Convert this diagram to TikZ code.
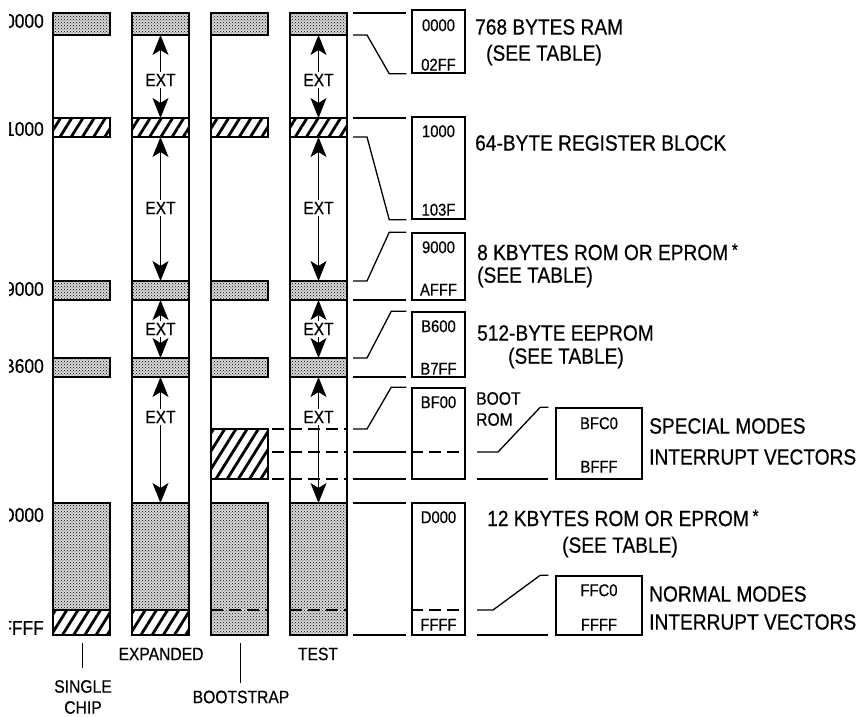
\documentclass[tikz,border=0pt]{standalone}
\usepackage{fontspec}
\setmainfont{Liberation Sans}[FakeStretch=0.87,FakeBold=0.5]
\usetikzlibrary{arrows.meta,patterns,patterns.meta,positioning}

\tikzset{
  col/.style={line width=1.8pt},
  stip/.style={col,fill=gray!30,postaction={pattern=crosshatch dots}},
  hatch/.style={col,pattern={Lines[angle=58,distance=9.5pt,line width=2.8pt]}},
  membox/.style={draw,line width=1.5pt,minimum width=53pt,inner sep=0pt},
  conn/.style={line width=1.3pt,shorten >=5pt},
  dsh/.style={line width=1.3pt,dash pattern=on 12pt off 6pt},
  extarrow/.style={line width=1pt,arrows={-Stealth[length=20pt,width=16pt,inset=5pt]}},
  ext/.style={font=\fontsize{18}{18}\selectfont,inner sep=1.5pt},
  big/.style={font=\fontsize{22}{25}\selectfont,anchor=west,inner sep=0pt},
  addr/.style={font=\fontsize{17}{17}\selectfont,inner sep=0pt},
  addrleft/.style={font=\fontsize{20}{20}\selectfont,anchor=east,inner sep=0pt},
  modelbl/.style={font=\fontsize{18}{21}\selectfont,align=center,inner sep=0pt},
}

\begin{document}
\begin{tikzpicture}[x=1pt,y=-1pt]
\useasboundingbox (0,0) rectangle (860,717);

% address levels
\foreach \n/\y in {0000/13,02FF/35,1000/118,103F/137,9000/281,AFFF/300,
    B600/358,B7FF/377,BF00/429,BFC0/452,BFFF/479,D000/503,FFC0/610,FFFF/635}
  \coordinate (a\n) at (0,\y);

% the four memory maps
\foreach \cx in {53,132,211,290} {
  \draw[stip] (\cx,13) rectangle +(57,22);
  \draw[hatch] (\cx,118) rectangle +(57,19);
  \draw[stip] (\cx,281) rectangle +(57,19);
  \draw[stip] (\cx,358) rectangle +(57,19);
}
\foreach \cx in {53,132} {
  \draw[stip] (\cx,503) rectangle +(57,107);
  \draw[hatch] (\cx,610) rectangle +(57,25);
}
\foreach \cx in {211,290} {
  \draw[stip] (\cx,503) rectangle +(57,132);
  \draw[dsh] (\cx,610) -- +(57,0);
}
\draw[hatch] (211,429) rectangle (268,479);
\foreach \y in {429,452,479} \draw[dsh,dash phase=-4pt] (268,\y) -- (347,\y);
\foreach \cx in {53,132,211,290} \draw[col] (\cx,13) -- (\cx,635);
\draw[col] (189,13) -- (189,635);
\draw[col] (347,13) -- (347,635);

% external areas
\foreach \cx/\cn in {160.5/x,318.5/t} {
  \node[ext] (e1\cn) at (\cx,80) {EXT};
  \node[ext] (e2\cn) at (\cx,208) {EXT};
  \node[ext] (e3\cn) at (\cx,329) {EXT};
  \node[ext] (e4\cn) at (\cx,417) {EXT};
  \draw[extarrow] (e1\cn) -- (e1\cn |- a02FF);
  \draw[extarrow] (e1\cn) -- (e1\cn |- a1000);
  \draw[extarrow] (e2\cn) -- (e2\cn |- a103F);
  \draw[extarrow] (e2\cn) -- (e2\cn |- a9000);
  \draw[extarrow] (e3\cn) -- (e3\cn |- aAFFF);
  \draw[extarrow] (e3\cn) -- (e3\cn |- aB600);
  \draw[extarrow] (e4\cn) -- (e4\cn |- aB7FF);
  \draw[extarrow] (e4\cn) -- (e4\cn |- aD000);
}

% addresses on the left (cut at the page edge)
\begin{scope}
  \clip (9,0) rectangle (52,717);
  \node[addrleft] (l0000) at (44,21) {0000};
  \node[addrleft] (l1000) at (44,129) {1000};
  \node[addrleft] (l9000) at (44,289) {9000};
  \node[addrleft] (lB600) at (44,366) {B600};
  \node[addrleft] (lD000) at (44,515) {D000};
  \node[addrleft] (lFFFF) at (44,628) {FFFF};
\end{scope}

% mode names
\node[modelbl] (single) at (83,697) {SINGLE\\CHIP};
\node[modelbl] (expanded) at (161,654) {EXPANDED};
\node[modelbl] (bootstrap) at (241,697) {BOOTSTRAP};
\node[modelbl] (test) at (318,654) {TEST};
\coordinate (tkS) at (82,643);
\coordinate (tkB) at (240,643);
\draw[line width=1pt,shorten >=12pt] (tkS) -- (tkS |- single.north);
\draw[line width=1pt,shorten >=7pt] (tkB) -- (tkB |- bootstrap.north);

% expanded views
\node[membox,minimum height=63pt] (ram) at (438.5,41.5) {};
\node[membox,minimum height=102pt] (reg) at (438.5,168) {};
\node[membox,minimum height=67pt] (rom9) at (438.5,266.5) {};
\node[membox,minimum height=65pt] (ee) at (438.5,344.5) {};
\node[membox,minimum height=91pt] (boot) at (438.5,433.5) {};
\node[membox,minimum height=132pt] (romD) at (438.5,569) {};
\node[membox,minimum width=86pt,minimum height=71pt] (spec) at (599,443.5) {};
\node[membox,minimum width=86pt,minimum height=59pt] (norm) at (599,605.5) {};
\draw[dsh] (boot.west |- aBFC0) -- (boot.east |- aBFC0);
\draw[dsh] (romD.west |- aFFC0) -- (romD.east |- aFFC0);

\node[addr] (ramHi) at ([yshift=-16pt]ram.north) {0000};
\node[addr] (ramLo) at ([yshift=9pt]ram.south) {02FF};
\node[addr] (regHi) at ([yshift=-15pt]reg.north) {1000};
\node[addr] (regLo) at ([yshift=10pt]reg.south) {103F};
\node[addr] (rom9Hi) at ([yshift=-15pt]rom9.north) {9000};
\node[addr] (rom9Lo) at ([yshift=11pt]rom9.south) {AFFF};
\node[addr] (eeHi) at ([yshift=-15pt]ee.north) {B600};
\node[addr] (eeLo) at ([yshift=9pt]ee.south) {B7FF};
\node[addr] (bootHi) at ([yshift=-15pt]boot.north) {BF00};
\node[addr] (romDHi) at ([yshift=-15pt]romD.north) {D000};
\node[addr] (romDLo) at ([yshift=11pt]romD.south) {FFFF};
\node[addr] (specHi) at ([yshift=-16pt]spec.north) {BFC0};
\node[addr] (specLo) at ([yshift=13pt]spec.south) {BFFF};
\node[addr] (normHi) at ([yshift=-15pt]norm.north) {FFC0};
\node[addr] (normLo) at ([yshift=11pt]norm.south) {FFFF};

% leaders from the test map to the views
\coordinate (s) at (353,0);
\coordinate (t) at (477,0);
\draw[conn] (s |- a0000) -- (ram.west |- a0000);
\draw[conn] (s |- a02FF) -- ++(14,0) -- ([xshift=-22pt]ram.south west) -- (ram.south west);
\draw[conn] (s |- a1000) -- (reg.west |- a1000);
\draw[conn] (s |- a103F) -- ++(14,0) -- ([xshift=-22pt]reg.south west) -- (reg.south west);
\draw[conn] (s |- a9000) -- ++(14,0) -- ([xshift=-22pt]rom9.north west) -- (rom9.north west);
\draw[conn] (s |- aAFFF) -- (rom9.west |- aAFFF);
\draw[conn] (s |- aB600) -- ++(14,0) -- ([xshift=-20pt]ee.north west) -- (ee.north west);
\draw[conn] (s |- aB7FF) -- (ee.west |- aB7FF);
\draw[conn] (s |- aBF00) -- ++(14,0) -- ([xshift=-20pt]boot.north west) -- (boot.north west);
\draw[conn] (s |- aBFC0) -- (boot.west |- aBFC0);
\draw[conn] (s |- aBFFF) -- (boot.west |- aBFFF);
\draw[conn] (s |- aD000) -- (romD.west |- aD000);
\draw[conn] (s |- aFFFF) -- (romD.west |- aFFFF);
\draw[conn,shorten >=7pt] (t |- aBFC0) -- ++(21,0) -- ([xshift=-15pt]spec.north west) -- (spec.north west);
\draw[conn,shorten >=7pt] (t |- aBFFF) -- (spec.west |- aBFFF);
\draw[conn,shorten >=7pt] (t |- aFFC0) -- ++(16,0) -- ([xshift=-15pt]norm.north west) -- (norm.north west);
\draw[conn,shorten >=7pt] (t |- aFFFF) -- (norm.west |- aFFFF);

% descriptions
\node[big] (ramTxt) at (475,27) {768 BYTES RAM};
\node[big] (ramTbl) at (486,55) {(SEE TABLE)};
\node[big] (regTxt) at (475,143) {64-BYTE REGISTER BLOCK};
\node[big] (rom9Txt) at (477,252) {8 KBYTES ROM OR EPROM\,\raisebox{4pt}{\fontsize{18}{18}\selectfont*}};
\node[big] (rom9Tbl) at (477,277) {(SEE TABLE)};
\node[big] (eeTxt) at (477,333) {512-BYTE EEPROM};
\node[big] (eeTbl) at (508,358) {(SEE TABLE)};
\node[modelbl,anchor=west,align=left] (bootTxt) at (476,409) {BOOT\\ROM};
\node[big] (specTxt) at (649,426) {SPECIAL MODES};
\node[big] (specVec) at (649,457) {INTERRUPT VECTORS};
\node[big] (romDTxt) at (487,518) {12 KBYTES ROM OR EPROM\,\raisebox{4pt}{\fontsize{18}{18}\selectfont*}};
\node[big] (romDTbl) at (562,547) {(SEE TABLE)};
\node[big] (normTxt) at (649,594) {NORMAL MODES};
\node[big] (normVec) at (649,622) {INTERRUPT VECTORS};
\end{tikzpicture}
\end{document}
